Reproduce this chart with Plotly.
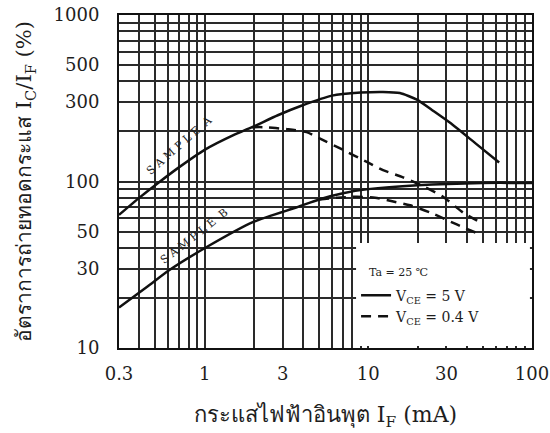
import plotly.graph_objects as go
import math

# Sample A, V_CE = 5 V
a_solid_if = [0.3, 0.4, 0.52, 0.7, 1.0, 1.5, 1.95, 2.8, 3.9, 6.0, 9.0, 12.3, 15.6, 19.8, 25, 31.6, 45, 63]
a_solid_ctr = [63, 80, 98, 122, 155, 190, 212, 250, 285, 328, 342, 345, 340, 310, 265, 225, 170, 130]
# Sample A, V_CE = 0.4 V
a_dash_if = [1.95, 2.3, 3.2, 4.2, 5.0, 7.0, 9.8, 12.3, 16.3, 22, 28.6, 38, 48]
a_dash_ctr = [212, 212, 206, 198, 182, 155, 131, 117, 106, 93, 81, 65, 57]
# Sample B, V_CE = 5 V
b_solid_if = [0.3, 0.45, 0.61, 1.03, 1.97, 3.66, 5.0, 7.0, 10, 20, 50, 100]
b_solid_ctr = [17.5, 23.5, 29.4, 40.4, 57, 70, 78, 85, 90, 95, 98, 98]
# Sample B, V_CE = 0.4 V
b_dash_if = [5.0, 6.5, 8.5, 11, 14, 18, 24, 35, 46]
b_dash_ctr = [78, 80, 81, 80, 76, 72, 65, 55, 49]

x_ticks = [0.3, 1, 3, 10, 30, 100]
x_ticktext = ["0.3", "1", "3", "10", "30", "100"]
x_minor = [0.4, 0.5, 0.6, 0.7, 0.8, 0.9, 2, 4, 5, 6, 7, 8, 9, 20, 40, 50, 60, 70, 80, 90]
y_ticks = [10, 30, 50, 100, 300, 500, 1000]
y_ticktext = ["10", "30", "50", "100", "300", "500", "1000"]
y_minor = [20, 40, 60, 70, 80, 90, 200, 400, 600, 700, 800, 900]

SERIF = "DejaVu Serif"
GRID = "#2a2a2a"
INK = "#1e1e1e"

fig = go.Figure()
fig.add_trace(go.Scatter(x=a_solid_if, y=a_solid_ctr, mode="lines", name="V<sub>CE</sub> = 5 V",
                         legendgroup="5", line=dict(color="#111", width=2.5, shape="spline", smoothing=0.6)))
fig.add_trace(go.Scatter(x=a_dash_if, y=a_dash_ctr, mode="lines", name="V<sub>CE</sub> = 0.4 V",
                         legendgroup="04", line=dict(color="#111", width=2.5, dash="10px,7px", shape="spline", smoothing=0.6)))
fig.add_trace(go.Scatter(x=b_solid_if, y=b_solid_ctr, mode="lines", showlegend=False,
                         legendgroup="5", line=dict(color="#111", width=2.5, shape="spline", smoothing=0.6)))
fig.add_trace(go.Scatter(x=b_dash_if, y=b_dash_ctr, mode="lines", showlegend=False,
                         legendgroup="04", line=dict(color="#111", width=2.5, dash="10px,7px", shape="spline", smoothing=0.6)))

axis_common = dict(type="log", showline=True, mirror=True, linecolor="#111", linewidth=2,
                   showgrid=True, gridcolor=GRID, gridwidth=1.8, ticks="", zeroline=False,
                   automargin=False,
                   tickfont=dict(family=SERIF, size=18, color=INK))

fig.update_xaxes(range=[math.log10(0.3), 2], tickmode="array", tickvals=x_ticks, ticktext=x_ticktext,
                 minor=dict(tickmode="array", tickvals=x_minor, showgrid=True, gridcolor=GRID, gridwidth=1.5),
                 ticklabelstandoff=8,
                 title=dict(text="กระแสไฟฟ้าอินพุต I<sub>F</sub> (mA)", font=dict(family=SERIF, size=22, color=INK), standoff=24),
                 **axis_common)
fig.update_yaxes(range=[1, 3], tickmode="array", tickvals=y_ticks, ticktext=y_ticktext,
                 minor=dict(tickmode="array", tickvals=y_minor, showgrid=True, gridcolor=GRID, gridwidth=1.5),
                 ticklabelstandoff=14,
                 title=dict(text="อัตราการถ่ายทอดกระแส I<sub>C</sub>/I<sub>F</sub> (%)", font=dict(family=SERIF, size=21, color=INK), standoff=16),
                 **axis_common)

# blank area behind the condition legend
fig.add_shape(type="rect", xref="paper", yref="paper", x0=0.574, x1=0.995, y0=0.006, y1=0.315,
              fillcolor="white", line=dict(width=0), layer="above")

fig.add_annotation(x=math.log10(0.70), y=math.log10(165), text="S A M P L E  A", showarrow=False,
                   textangle=-41, font=dict(family=SERIF, size=11, color=INK))
fig.add_annotation(x=math.log10(0.86), y=math.log10(47), text="S A M P L E  B", showarrow=False,
                   textangle=-38, font=dict(family=SERIF, size=11, color=INK))
fig.add_annotation(xref="paper", yref="paper", x=0.60, y=0.228, xanchor="left", yanchor="middle",
                   text="Ta = 25 ℃", showarrow=False, font=dict(family=SERIF, size=11, color=INK))

fig.update_layout(
    width=550, height=433,
    margin=dict(l=119, r=18, t=15, b=85),
    paper_bgcolor="white", plot_bgcolor="white",
    legend=dict(x=0.574, y=0.126, xanchor="left", yanchor="middle", bgcolor="rgba(0,0,0,0)",
                font=dict(family=SERIF, size=14, color=INK), tracegroupgap=0, itemwidth=30),
)

fig.write_html("out.html", config={"displayModeBar": False},
               post_script="document.body.style.margin='0px';document.body.style.overflow='hidden';")
